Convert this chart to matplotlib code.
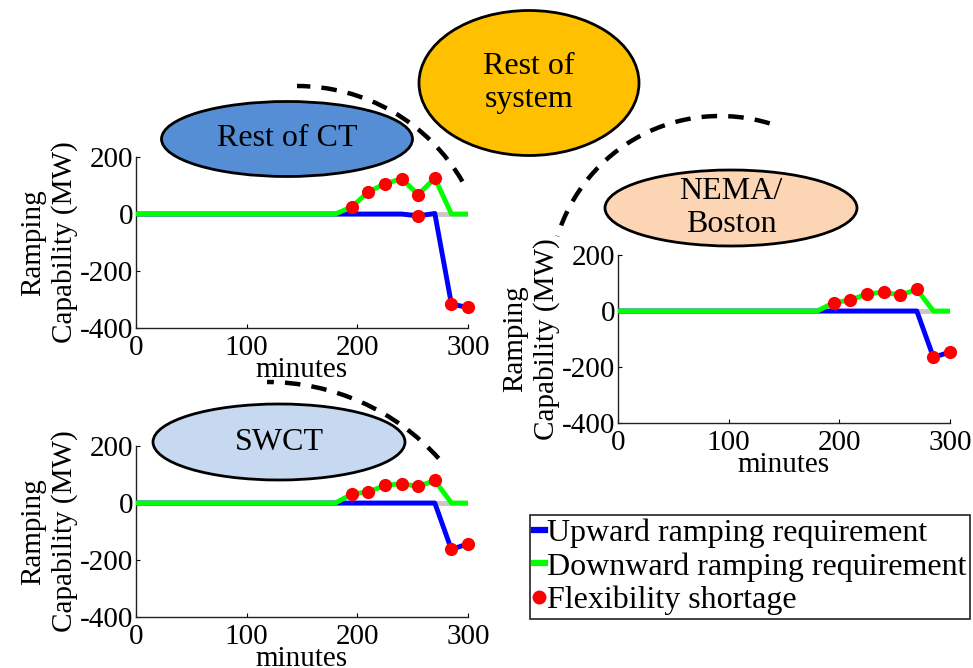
import numpy as np
import matplotlib
matplotlib.use("Agg")
import matplotlib.pyplot as plt
from matplotlib.patches import Ellipse, Arc
from matplotlib.lines import Line2D

plt.rcParams['font.family'] = ['Liberation Serif', 'DejaVu Serif']
plt.rcParams['axes.unicode_minus'] = False

# time axis (minutes)
t = [0, 15, 30, 45, 60, 75, 90, 105, 120, 135, 150, 165, 180, 195, 210, 225, 240, 255, 270, 285, 300]

# Rest of CT
ct_up = [0, 0, 0, 0, 0, 0, 0, 0, 0, 0, 0, 0, 0, 0, 0, 0, 0, -7, 2, -316, -328]
ct_down = [0, 0, 0, 0, 0, 0, 0, 0, 0, 0, 0, 0, 0, 25, 78, 106, 124, 68, 126, 0, 0]
ct_short_t = [195, 210, 225, 240, 255, 255, 270, 285, 300]
ct_short_v = [25, 78, 106, 124, 68, -7, 126, -316, -328]

# NEMA/Boston
nema_up = [0, 0, 0, 0, 0, 0, 0, 0, 0, 0, 0, 0, 0, 0, 0, 0, 0, 0, 0, -165, -147]
nema_down = [0, 0, 0, 0, 0, 0, 0, 0, 0, 0, 0, 0, 0, 30, 39, 61, 67, 57, 77, 0, 0]
nema_short_t = [195, 210, 225, 240, 255, 270, 285, 300]
nema_short_v = [30, 39, 61, 67, 57, 77, -165, -147]

# SWCT
swct_up = [0, 0, 0, 0, 0, 0, 0, 0, 0, 0, 0, 0, 0, 0, 0, 0, 0, 0, 0, -163, -143]
swct_down = [0, 0, 0, 0, 0, 0, 0, 0, 0, 0, 0, 0, 0, 31, 39, 62, 68, 58, 79, 0, 0]
swct_short_t = [195, 210, 225, 240, 255, 270, 285, 300]
swct_short_v = [31, 39, 62, 68, 58, 79, -163, -143]

W, H = 973, 668
fig = plt.figure(figsize=(W / 100, H / 100), dpi=100)


def panel(px, up, down, st, sv):
    # px = (left, top, right, bottom) in pixels
    l, tp, r, b = px
    ax = fig.add_axes([l / W, 1 - b / H, (r - l) / W, (b - tp) / H])
    ax.plot([0, 300], [0, 0], color='#c8c8c8', lw=3.5, zorder=1)
    ax.plot(t, up, color='#0000ff', lw=3.5, zorder=2)
    ax.plot(t, down, color='#00ff00', lw=3.5, zorder=3)
    ax.plot(st, sv, 'o', color='#ff0000', ms=9.5, mec='none', zorder=4, clip_on=False)
    ax.set_xlim(0, 300)
    ax.set_ylim(-400, 200)
    ax.set_xticks([0, 100, 200, 300])
    ax.set_yticks([-400, -200, 0, 200])
    ax.spines['top'].set_visible(False)
    ax.spines['right'].set_visible(False)
    for s in ('left', 'bottom'):
        ax.spines[s].set_linewidth(1.0)
        ax.spines[s].set_color('#222222')
    ax.tick_params(direction='in', length=3, width=0.8, labelsize=21)
    ax.tick_params(axis='x', pad=5)
    ax.tick_params(axis='y', pad=2)
    ax.set_xlabel('minutes', fontsize=21, labelpad=-3)
    ax.set_ylabel('Ramping\nCapability (MW)', fontsize=21, labelpad=1, linespacing=1.28)
    ax.patch.set_alpha(0)
    return ax


panel((136, 157, 468, 328), ct_up, ct_down, ct_short_t, ct_short_v)
panel((618, 255, 950, 423), nema_up, nema_down, nema_short_t, nema_short_v)
panel((136, 446, 468, 617), swct_up, swct_down, swct_short_t, swct_short_v)

# overlay for the region bubbles and dashed arcs (pixel coordinates)
ov = fig.add_axes([0, 0, 1, 1], zorder=10)
ov.set_xlim(0, W)
ov.set_ylim(0, H)
ov.axis('off')
ov.patch.set_alpha(0)

bubbles = [
    ((287, 139), 251, 75, '#558ed5', 'Rest of CT'),
    ((529, 83), 220, 145, '#ffc000', 'Rest of\nsystem'),
    ((731, 208), 252, 76, '#fcd5b5', 'NEMA/\nBoston'),
    ((279, 442), 252, 76, '#c6d9f1', 'SWCT'),
]
for (cx, cy), w, h, col, txt in bubbles:
    ov.add_patch(Ellipse((cx, H - cy), w, h, facecolor=col, edgecolor='black', lw=2))
    ov.text(cx, H - cy, txt, ha='center', va='center', fontsize=23, linespacing=1.2)

arcs = [
    ((297, 277), 191, 30, 90),
    ((267, 613), 231, 42, 90),
    ((720, 286), 170, 73, 163),
]
for (cx, cy), rad, a1, a2 in arcs:
    ov.add_patch(Arc((cx, H - cy), 2 * rad, 2 * rad, theta1=a1, theta2=a2,
                     color='black', lw=3.2, linestyle=(0, (3.5, 2.5))))

handles = [
    Line2D([], [], color='#0000ff', lw=4.5),
    Line2D([], [], color='#00ff00', lw=4.5),
    Line2D([], [], ls='none', marker='o', color='#ff0000', ms=10, mec='none'),
]
labels = ['Upward ramping requirement', 'Downward ramping requirement', 'Flexibility shortage']
leg = fig.legend(handles, labels, loc='upper left', bbox_to_anchor=(530 / W, 1 - 515 / H),
                 fontsize=23, handlelength=0.35, handletextpad=0.05, borderpad=0.12,
                 labelspacing=0.12, borderaxespad=0, fancybox=False, framealpha=1)
leg.get_frame().set_edgecolor('#222222')
leg.get_frame().set_linewidth(1.2)

fig.savefig('out.png', dpi=100)
